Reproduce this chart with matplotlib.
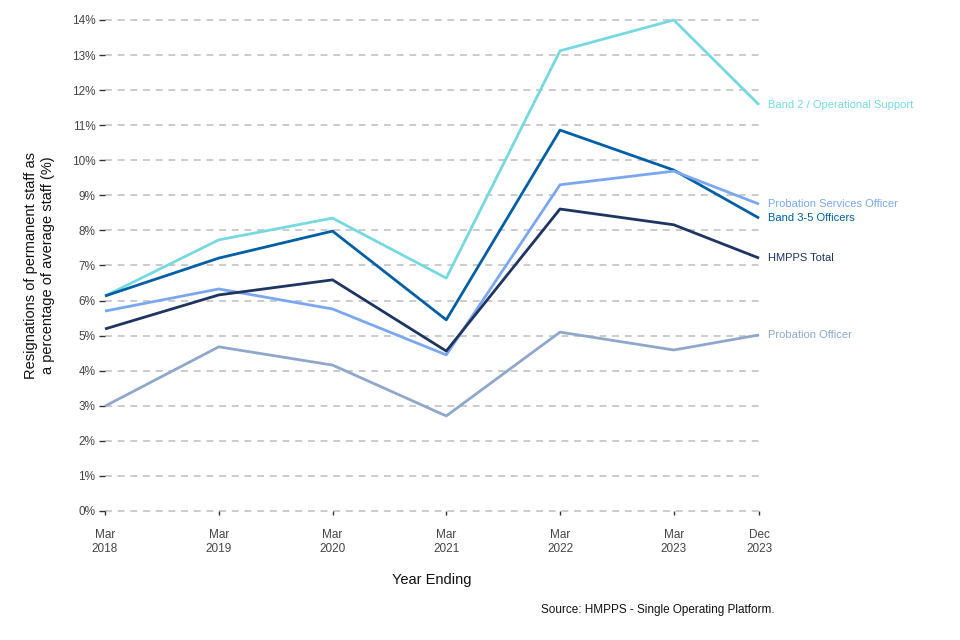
import matplotlib
matplotlib.use("Agg")
import matplotlib.pyplot as plt

plt.rcParams['font.family'] = ['Liberation Sans', 'DejaVu Sans']

x_pos = [2018.0, 2019.0, 2020.0, 2021.0, 2022.0, 2023.0, 2023.75]
x_labels = ["Mar\n2018", "Mar\n2019", "Mar\n2020", "Mar\n2021", "Mar\n2022", "Mar\n2023", "Dec\n2023"]

band2 = [6.13, 7.73, 8.35, 6.64, 13.12, 14.0, 11.58]
band35 = [6.13, 7.21, 7.98, 5.45, 10.86, 9.72, 8.35]
pso = [5.70, 6.33, 5.76, 4.45, 9.30, 9.69, 8.75]
hmpps = [5.19, 6.16, 6.59, 4.56, 8.61, 8.16, 7.21]
po = [2.99, 4.68, 4.16, 2.71, 5.10, 4.59, 5.02]

series = [
    ("Band 2 / Operational Support", band2, "#76D9E0"),
    ("Band 3-5 Officers", band35, "#005EA5"),
    ("Probation Services Officer", pso, "#7BA7F0"),
    ("HMPPS Total", hmpps, "#1E3461"),
    ("Probation Officer", po, "#8FA8CA"),
]

fig = plt.figure(figsize=(9.6, 6.4), dpi=100)
ax = fig.add_axes([0.1094, 0.2016, 0.6813, 0.7672])

yticks = list(range(0, 15))
for yv in yticks:
    ax.axhline(yv, color="#BDBDBD", lw=1.1, ls=(0, (4.5, 3.8)), zorder=1, clip_on=False)

for name, vals, col in series:
    ax.plot(x_pos, vals, color=col, lw=2.0, zorder=3, clip_on=False, solid_capstyle='butt')
    ax.annotate(name, xy=(x_pos[-1], vals[-1]), xytext=(6.5, 0), textcoords="offset points",
                color=col, fontsize=8, va="center", ha="left", annotation_clip=False)

ax.set_xlim(x_pos[0], x_pos[-1])
ax.set_ylim(0, 14)
ax.set_xticks(x_pos)
ax.set_xticklabels(x_labels, fontsize=8.5, color="#444444")
ax.set_yticks(yticks)
ax.set_yticklabels([f"{v}%" for v in yticks], fontsize=8.5, color="#444444")
ax.tick_params(axis="x", length=3, width=1, color="#333333", pad=10)
ax.tick_params(axis="y", length=4, width=1, color="#333333", pad=3)
for s in ax.spines.values():
    s.set_visible(False)

ax.set_xlabel("Year Ending", fontsize=10.5, color="#111111", labelpad=13)
ax.set_ylabel("Resignations of permanent staff as\na percentage of average staff (%)",
              fontsize=10.5, color="#111111", labelpad=12, linespacing=1.25)
fig.text(0.807, 0.047, "Source: HMPPS - Single Operating Platform.", fontsize=8.5,
         ha="right", va="center", color="#111111")

fig.savefig("out.png", dpi=100)
